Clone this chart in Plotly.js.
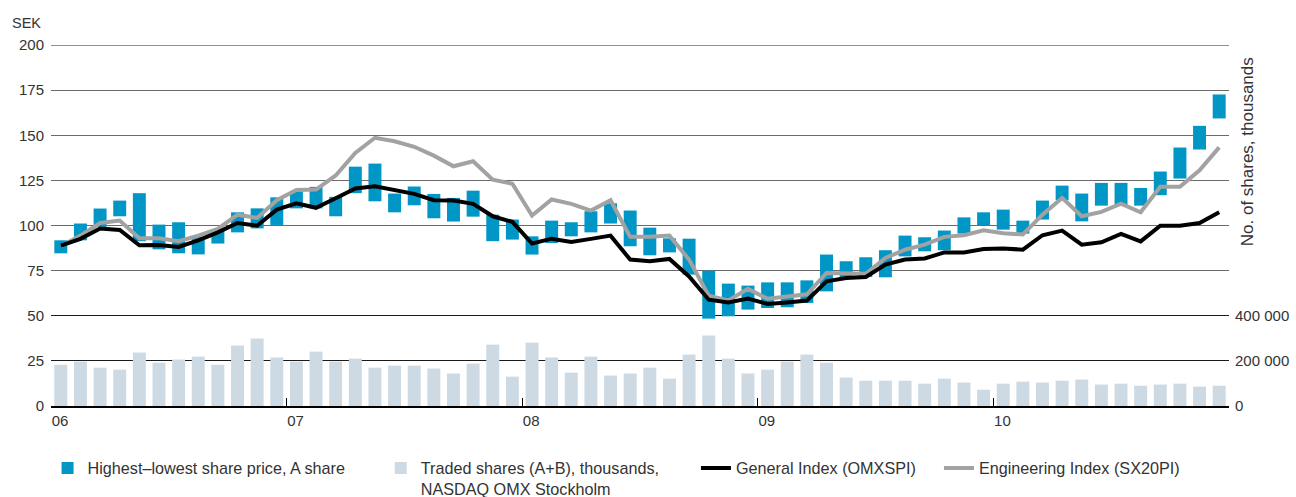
<!DOCTYPE html>
<html>
<head>
<meta charset="utf-8">
<script src="https://cdn.plot.ly/plotly-3.0.1.min.js"></script>
<style>
  html, body { margin: 0; padding: 0; background: #ffffff; }
  #chart { width: 1296px; height: 497px; }
</style>
</head>
<body>
<div id="chart"></div>
<script>
// Monthly data, Jan 2006 – Dec 2010 (60 months)
const yearLabels = ['06', '07', '08', '09', '10'];

const priceHigh = [91.8, 101.1, 109.4, 113.8, 117.9, 100.5, 101.8, 93.7, 97.7, 107.3, 109.5, 115.6,
  119.0, 121.4, 115.9, 132.6, 134.3, 117.7, 121.6, 117.5, 115.3, 119.3, 106.0, 103.3,
  94.0, 102.7, 101.8, 107.9, 112.3, 108.3, 98.8, 92.9, 92.7, 75.0, 67.8, 66.7,
  68.5, 68.5, 69.6, 83.9, 80.2, 82.4, 86.3, 94.4, 93.5, 97.2, 104.5, 107.3,
  108.8, 102.7, 113.8, 122.1, 117.7, 123.6, 123.6, 120.8, 129.9, 143.2, 155.2, 172.6];

const priceLow = [84.6, 91.8, 99.2, 105.1, 91.3, 86.8, 84.6, 84.0, 90.0, 96.2, 98.4, 100.3,
  109.5, 109.5, 105.1, 117.9, 113.4, 107.3, 111.2, 104.0, 102.2, 104.9, 91.3, 92.2,
  83.9, 90.3, 94.0, 96.2, 101.1, 88.5, 83.5, 85.1, 72.8, 48.4, 49.7, 53.4,
  54.3, 54.7, 57.1, 63.5, 70.9, 71.5, 71.3, 82.9, 85.7, 86.3, 95.5, 99.9,
  97.7, 95.5, 103.3, 114.0, 102.3, 111.0, 111.0, 111.0, 116.8, 126.0, 142.1, 159.3];

const tradedShares = [183000, 197000, 170000, 161000, 237000, 192000, 206000, 219000, 183000, 268000, 299000, 215000,
  197000, 241000, 197000, 210000, 170000, 179000, 179000, 166000, 144000, 188000, 272000, 130000,
  281000, 215000, 148000, 219000, 135000, 144000, 170000, 121000, 228000, 312000, 210000, 144000,
  161000, 197000, 228000, 192000, 126000, 112000, 112000, 112000, 99000, 121000, 104000, 72000,
  99000, 108000, 104000, 112000, 117000, 95000, 99000, 90000, 95000, 99000, 86000, 90000];

const generalIndex = [88.9, 92.6, 98.3, 97.5, 89.0, 89.2, 88.1, 91.8, 96.2, 101.4, 99.9, 108.8,
  112.3, 109.8, 115.1, 120.5, 121.7, 119.5, 117.5, 114.0, 113.8, 112.0, 105.1, 102.0,
  90.0, 92.7, 90.9, 92.6, 94.4, 81.1, 80.2, 81.5, 71.8, 58.9, 57.4, 59.5,
  56.5, 57.4, 58.4, 69.1, 70.9, 71.5, 78.3, 81.1, 81.7, 85.1, 85.1, 87.0,
  87.3, 86.6, 94.6, 97.2, 89.4, 90.7, 95.3, 91.2, 99.9, 99.9, 101.4, 107.3];

const engineeringIndex = [88.5, 94.4, 101.4, 102.7, 92.9, 92.9, 91.3, 94.4, 98.1, 106.0, 104.2, 114.0,
  119.7, 119.9, 127.7, 140.2, 148.6, 146.7, 143.6, 138.7, 132.8, 135.6, 125.4, 123.1,
  105.5, 114.4, 112.0, 108.3, 114.0, 93.7, 93.7, 94.4, 81.1, 61.1, 58.5, 64.9,
  59.4, 60.8, 61.9, 73.7, 73.7, 73.3, 82.0, 86.6, 89.4, 93.7, 94.6, 97.3,
  95.7, 95.0, 106.0, 115.3, 105.1, 107.5, 112.1, 107.3, 121.4, 121.4, 130.6, 143.3];

// month centres on a numeric axis (one unit per month)
const x = priceHigh.map((_, i) => i + 0.5);
const priceRange = priceHigh.map((h, i) => h - priceLow[i]);

const FONT = 'Liberation Sans, Arial, sans-serif';
const TXT = '#333333';

const traces = [
  {
    type: 'bar', name: 'Traded shares (A+B), thousands,<br>NASDAQ OMX Stockholm',
    x: x, y: tradedShares, yaxis: 'y2', width: 0.66,
    marker: { color: '#cddae4', line: { width: 0 } },
    legend: 'legend2', hoverinfo: 'skip'
  },
  {
    type: 'bar', name: 'Highest–lowest share price, A share',
    x: x, y: priceRange, base: priceLow, width: 0.66,
    marker: { color: '#0096c6', line: { width: 0 } },
    legend: 'legend', hoverinfo: 'skip'
  },
  {
    type: 'scatter', mode: 'lines', name: 'Engineering Index (SX20PI)',
    x: x, y: engineeringIndex,
    line: { color: '#a2a2a2', width: 4 },
    legend: 'legend4', hoverinfo: 'skip'
  },
  {
    type: 'scatter', mode: 'lines', name: 'General Index (OMXSPI)',
    x: x, y: generalIndex,
    line: { color: '#000000', width: 4 },
    legend: 'legend3', hoverinfo: 'skip'
  }
];

const legendBase = {
  orientation: 'h', xref: 'container', yref: 'container',
  yanchor: 'top', y: 0.0926, xanchor: 'left',
  font: { family: FONT, size: 16.2, color: TXT },
  bgcolor: 'rgba(0,0,0,0)', borderwidth: 0, valign: 'top'
};

const layout = {
  width: 1296, height: 497,
  margin: { l: 51, r: 67, t: 45, b: 91, autoexpand: false },
  paper_bgcolor: '#ffffff', plot_bgcolor: '#ffffff',
  font: { family: FONT, size: 15, color: TXT },
  barmode: 'overlay',
  xaxis: {
    range: [0, 60], tickvals: [0, 12, 24, 36, 48, 60],
    ticktext: yearLabels.concat(['']),
    ticks: 'inside', ticklen: 8, tickwidth: 1, tickcolor: '#000',
    ticklabelshift: 9,
    showgrid: false, zeroline: false,
    showline: true, linecolor: '#000', linewidth: 2,
    tickfont: { family: FONT, size: 15, color: TXT },
    fixedrange: true
  },
  yaxis: {
    range: [0, 200], tickvals: [0, 25, 50, 75, 100, 125, 150, 175, 200],
    showgrid: true, gridcolor: '#6a6a6a', gridwidth: 1,
    zeroline: false, showline: false, ticks: '',
    ticklabelstandoff: 6,
    tickfont: { family: FONT, size: 15, color: TXT },
    fixedrange: true
  },
  yaxis2: {
    overlaying: 'y', side: 'right', range: [0, 1600000],
    tickvals: [0, 200000, 400000], ticktext: ['0', '200 000', '400 000'],
    showgrid: true, gridcolor: '#1a1a1a', gridwidth: 1,
    zeroline: false, showline: false, ticks: '',
    ticklabelstandoff: 5,
    tickfont: { family: FONT, size: 15, color: TXT },
    fixedrange: true
  },
  showlegend: true,
  legend: Object.assign({}, legendBase, { x: 0.0367 }),
  legend2: Object.assign({}, legendBase, { x: 0.2938 }),
  legend3: Object.assign({}, legendBase, { x: 0.537 }),
  legend4: Object.assign({}, legendBase, { x: 0.7245 }),
  shapes: [
    { type: 'line', xref: 'paper', yref: 'y', x0: 0, x1: 1, y0: 200, y1: 200,
      line: { color: '#222', width: 1 }, layer: 'below' }
  ],
  annotations: [
    { text: 'SEK', xref: 'paper', yref: 'paper', x: -0.0068, y: 1.062,
      xanchor: 'right', yanchor: 'middle', showarrow: false,
      font: { family: FONT, size: 14.5, color: TXT } },
    { text: 'No. of shares, thousands', xref: 'paper', yref: 'paper', x: 1.0153, y: 0.703,
      xanchor: 'center', yanchor: 'middle', textangle: -90, showarrow: false,
      font: { family: FONT, size: 17, color: TXT } }
  ]
};

Plotly.newPlot('chart', traces, layout, { displayModeBar: false, staticPlot: true });
</script>
</body>
</html>
